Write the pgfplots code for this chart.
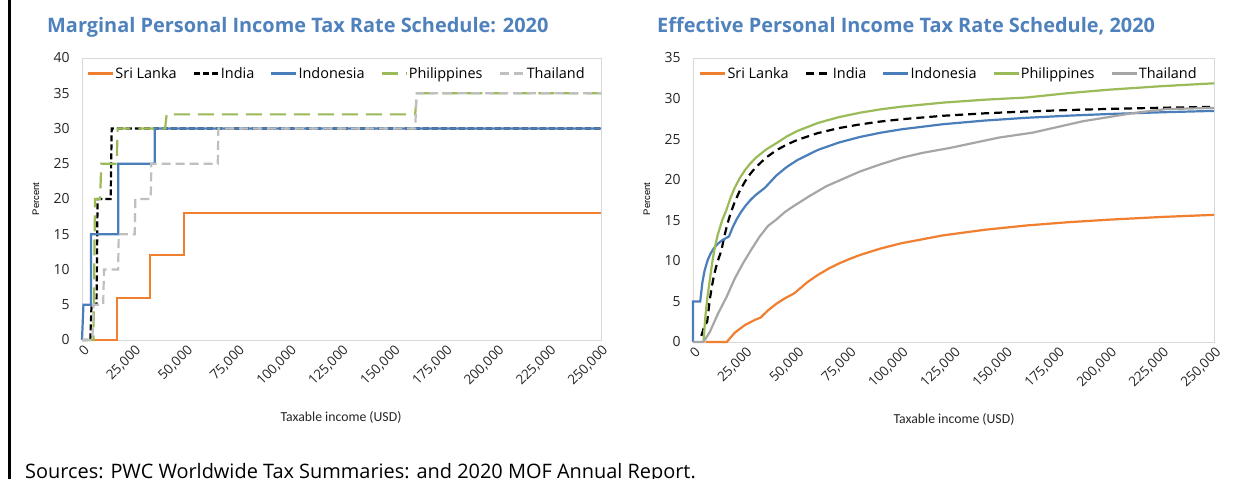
\documentclass[border=0pt]{standalone}
\usepackage{fontspec}
\setmainfont{Open Sans}
\newfontfamily\carlito{Carlito}
\newfontfamily\arialf{Liberation Sans}
\usepackage{pgfplots}
\pgfplotsset{compat=1.18}
\definecolor{slorange}{HTML}{F07F2F}
\definecolor{inblue}{HTML}{4A7EBB}
\definecolor{phgreen}{HTML}{9BBB59}
\definecolor{thgray}{HTML}{BFBFBF}
\definecolor{thgraytwo}{HTML}{A6A6A6}
\definecolor{titleblue}{HTML}{4F81BD}
\definecolor{boxgray}{HTML}{D9D9D9}
\pgfplotsset{
  mychart/.style={
    scale only axis,
    xmin=0, xmax=250000, ymin=0,
    xtick={0,25000,...,250000},
    xticklabels={0,{25,000},{50,000},{75,000},{100,000},{125,000},{150,000},{175,000},{200,000},{225,000},{250,000}},
    scaled x ticks=false,
    tick style={draw=none},
    axis line style={draw=boxgray, line width=0.8bp},
    xticklabel style={rotate=45, anchor=east, font=\fontsize{13.5}{15}\selectfont, yshift=-9bp, xshift=1bp, text=black!85},
    yticklabel style={font=\fontsize{14}{16}\selectfont, xshift=-9bp, text=black!85},
    /pgf/number format/assume math mode=true,
    legend style={at={(0.5,1)}, anchor=north, yshift=-7bp, xshift=-5bp, draw=none, fill=none,
      font=\fontsize{14.5}{16}\selectfont, legend columns=5,
      nodes={inner xsep=1bp, inner ysep=2bp},
      /tikz/every even column/.append style={column sep=15bp}, inner sep=0pt},
    legend image code/.code={\draw[##1] (0bp,0bp) -- (25bp,0bp);},
    every axis plot/.append style={line width=2.2bp, line join=miter},
    clip=false,
  }
}
\begin{document}
\begin{tikzpicture}[x=1bp,y=1bp]
\path[use as bounding box] (0,0) rectangle (1244,479);
\fill[white] (0,0) rectangle (1244,479);
\draw[black, line width=2.5bp] (9.5,0) -- (9.5,479);

% titles
\node[anchor=base west, font=\bfseries\fontsize{20}{22}\selectfont, text=titleblue, inner sep=0] at (47,446) {Marginal Personal Income Tax Rate Schedule: 2020};
\node[anchor=base west, font=\bfseries\fontsize{20}{22}\selectfont, text=titleblue, inner sep=0] at (657,446) {Effective Personal Income Tax Rate Schedule, 2020};

% axis labels
\node[font=\carlito\fontsize{13.8}{15}\selectfont, text=black!85] at (341,62) {Taxable income (USD)};
\node[font=\carlito\fontsize{13.8}{15}\selectfont, text=black!85] at (954,60) {Taxable income (USD)};
\node[rotate=90, font=\arialf\fontsize{9.5}{11}\selectfont] at (36,280) {Percent};
\node[rotate=90, font=\arialf\fontsize{9.5}{11}\selectfont] at (647,280) {Percent};

% source
\node[anchor=base west, font=\fontsize{20}{22}\selectfont, inner sep=0] at (25,0.5) {Sources: PWC Worldwide Tax Summaries: and 2020 MOF Annual Report.};

% ---------------- left: marginal ----------------
\begin{axis}[mychart, at={(82bp,139bp)}, anchor=south west, width=519bp, height=282bp,
  ymax=40, ytick={0,5,...,40}]
\addplot[slorange] coordinates {(0,0) (16700,0) (16700,6) (32800,6) (32800,12) (49000,12) (49000,18) (250000,18)};
\addlegendentry{Sri Lanka}
\addplot[black, dash pattern=on 6bp off 3bp] coordinates {(0,0) (4000,0) (4600,5) (7000,5) (7500,20) (13800,20) (14300,30) (250000,30)};
\addlegendentry{India}
\addplot[inblue] coordinates {(0,0) (700,5) (4300,5) (4300,15) (17500,15) (17500,25) (35000,25) (35000,30) (250000,30)};
\addlegendentry{Indonesia}
\addplot[phgreen, dash pattern=on 16bp off 8bp] coordinates {(0,0) (5500,0) (6300,20) (8700,20) (9300,25) (16700,25) (17200,30) (40000,30) (40800,32) (160500,32) (161300,35) (250000,35)};
\addlegendentry{Philippines}
\addplot[thgray, dash pattern=on 9bp off 5bp] coordinates {(0,0) (5000,0) (5600,5) (10200,5) (10600,10) (17400,10) (17700,15) (25400,15) (25700,20) (33100,20) (33400,25) (65400,25) (65700,30) (160500,30) (161200,35) (250000,35)};
\addlegendentry{Thailand}
\end{axis}

% ---------------- right: effective ----------------
\begin{axis}[mychart, at={(693bp,137bp)}, anchor=south west, width=521bp, height=284bp,
  ymax=35, ytick={0,5,...,35}]
\addplot[slorange] coordinates {(6000,0) (16200,0) (20000,1.14) (25000,2.11) (30000,2.76) (32400,3.00) (36000,3.90) (40000,4.71) (44000,5.37) (48600,6.00) (55000,7.40) (60000,8.28) (65000,9.03) (70000,9.67) (75000,10.22) (80000,10.71) (90000,11.52) (100000,12.17) (120000,13.14) (140000,13.83) (160000,14.36) (180000,14.76) (200000,15.08) (225000,15.41) (250000,15.67)};
\addlegendentry{Sri Lanka}
\addplot[black, dash pattern=on 8bp off 5bp] coordinates {(4000,0.75) (5000,1.6) (6000,2.17) (6800,2.5) (8000,5.13) (9000,6.78) (10000,8.1) (11000,9.18) (12000,10.08) (13600,11.25) (15000,13.0) (16500,14.55) (18000,15.83) (20000,17.25) (22500,18.67) (25000,19.8) (27500,20.73) (30000,21.5) (35000,22.71) (40000,23.63) (45000,24.33) (50000,24.9) (60000,25.75) (70000,26.36) (80000,26.81) (90000,27.17) (100000,27.45) (120000,27.88) (140000,28.18) (160000,28.41) (180000,28.58) (200000,28.73) (225000,28.87) (250000,28.98)};
\addlegendentry{India}
\addplot[inblue] coordinates {(0,0) (0,5) (3450,5) (4500,7.33) (5500,8.73) (7000,10.07) (8500,10.94) (10000,11.55) (12000,12.13) (14000,12.54) (17240,13.0) (19000,14.11) (21000,15.15) (23000,16.0) (25000,16.72) (27500,17.48) (30000,18.10) (34480,19.0) (40000,20.52) (45000,21.57) (50000,22.41) (60000,23.68) (70000,24.58) (80000,25.26) (90000,25.79) (100000,26.21) (120000,26.84) (140000,27.29) (160000,27.63) (180000,27.89) (200000,28.10) (225000,28.31) (250000,28.48)};
\addlegendentry{Indonesia}
\addplot[phgreen] coordinates {(5000,0) (6000,3.33) (7000,5.71) (8000,7.5) (9000,9.44) (10000,11.0) (11000,12.27) (12000,13.33) (14000,15.0) (16000,16.25) (18000,17.78) (20000,19.0) (22500,20.22) (25000,21.2) (27500,22.0) (30000,22.67) (35000,23.71) (40000,24.5) (45000,25.33) (50000,26.0) (60000,27.0) (70000,27.71) (80000,28.25) (90000,28.67) (100000,29.0) (120000,29.5) (140000,29.86) (160000,30.13) (180000,30.67) (200000,31.1) (225000,31.53) (250000,31.88)};
\addlegendentry{Philippines}
\addplot[thgraytwo] coordinates {(0,0) (5000,0) (8000,1.2) (12000,3.5) (16000,5.5) (20000,7.8) (24000,9.7) (28000,11.4) (32000,13.0) (36000,14.3) (40000,15.1) (44000,16.0) (48000,16.7) (56000,18.0) (64000,19.2) (72000,20.1) (80000,21.0) (90000,21.9) (100000,22.7) (110000,23.3) (123000,23.9) (147000,25.2) (163000,25.8) (187000,27.2) (211000,28.2) (227000,28.7) (250000,28.85)};
\addlegendentry{Thailand}
\end{axis}
\end{tikzpicture}
\end{document}
